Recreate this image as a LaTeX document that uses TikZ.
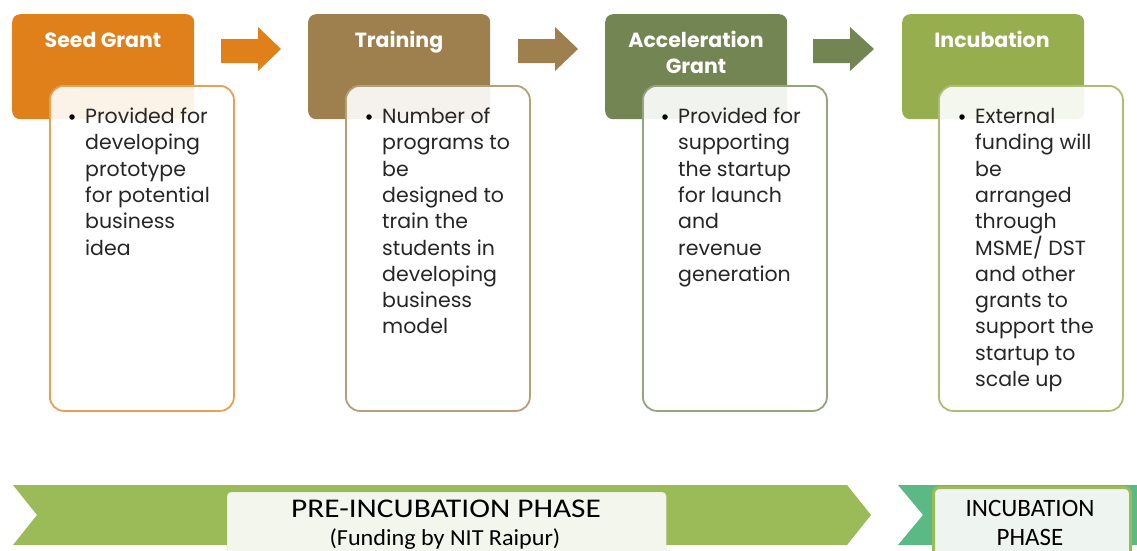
\documentclass[tikz,border=0pt]{standalone}
\usepackage{fontspec}
\newfontfamily\carlito{Carlito}
\newfontfamily\carlitoW[FakeStretch=1.16]{Carlito}
\newfontfamily\carlitoV[FakeStretch=1.05]{Carlito}
\newfontfamily\gothic{Poppins}
\definecolor{cOrange}{RGB}{224,128,27}
\definecolor{cBrown}{RGB}{158,128,78}
\definecolor{cOlive}{RGB}{115,133,82}
\definecolor{cGreen}{RGB}{150,174,78}
\definecolor{cBand}{RGB}{155,187,89}
\definecolor{cTeal}{RGB}{90,185,132}
\definecolor{cPaleA}{RGB}{243,246,237}
\definecolor{cPaleB}{RGB}{238,244,240}
\definecolor{cPaleEdge}{RGB}{222,230,205}
\definecolor{cText}{RGB}{38,38,38}
\tikzset{
  header/.style={rounded corners=8pt, minimum width=182pt, minimum height=105pt, anchor=north west, inner sep=0pt, draw=none},
  bodybox/.style={line width=1.8pt, fill=white, fill opacity=0.9, rounded corners=14pt, minimum width=184pt, minimum height=325pt, anchor=north west, inner sep=0pt},
  title/.style={text=white, font=\gothic\bfseries\fontsize{20.5}{26}\selectfont, inner sep=0pt, anchor=base},
  bline/.style={anchor=base west, inner sep=0pt, text=cText, font=\gothic\fontsize{20.5}{24}\selectfont},
  bdot/.style={circle, fill=black, inner sep=0pt, minimum size=5.5pt},
  phase/.style={inner sep=0pt, text=black, anchor=base},
}
\begin{document}
\begin{tikzpicture}[x=1pt,y=-1pt]
\clip (0,0) rectangle (1137,550);
\fill[white] (0,0) rectangle (1137,550);
% headers
\node[header, fill=cOrange] (h1) at (12,14) {};
\node[header, fill=cBrown] (h2) at (308,14) {};
\node[header, fill=cOlive] (h3) at (605,14) {};
\node[header, fill=cGreen] (h4) at (902,14) {};
\node[title] (t1) at (103,47.5) {Seed Grant};
\node[title] (t2) at (399,47.5) {Training};
\node[title] (t3) at (696,47.5) {Acceleration};
\node[title] (t3b) at (696,73.5) {Grant};
\node[title] (t4) at (992,47.5) {Incubation};
% block arrows
\fill[cOrange] (221,39)--(258,39)--(258,27)--(281,49)--(258,71)--(258,63)--(221,63)--cycle;
\fill[cBrown] (518,39)--(555,39)--(555,27)--(578,49)--(555,71)--(555,63)--(518,63)--cycle;
\fill[cOlive] (813,39)--(850,39)--(850,27)--(874,49)--(850,71)--(850,63)--(813,63)--cycle;
% bodies
\node[bodybox, draw=cOrange!75!white] (b1) at (49,85) {};
\node[bodybox, draw=cBrown!75!white] (b2) at (345,85) {};
\node[bodybox, draw=cOlive!75!white] (b3) at (642,85) {};
\node[bodybox, draw=cGreen!80!white] (b4) at (938,85) {};
\node[bdot] (d1) at (72,117) {};
\node[bdot] (d2) at (369,117) {};
\node[bdot] (d3) at (665,117) {};
\node[bdot] (d4) at (962,117) {};
\foreach \t [count=\i] in {Provided for,developing,prototype,for potential,business,idea}
  \node[bline] (p1-\i) at (85,123.5+26.3*\i-26.3) {\t};
\foreach \t [count=\i] in {Number of,programs to,be,designed to,train the,students in,developing,business,model}
  \node[bline] (p2-\i) at (382,123.5+26.3*\i-26.3) {\t};
\foreach \t [count=\i] in {Provided for,supporting,the startup,for launch,and,revenue,generation}
  \node[bline] (p3-\i) at (678,123.5+26.3*\i-26.3) {\t};
\foreach \t [count=\i] in {External,funding will,be,arranged,through,MSME/ DST,and other,grants to,support the,startup to,scale up}
  \node[bline] (p4-\i) at (975,123.5+26.3*\i-26.3) {\t};
% bottom bands
\fill[cBand] (13,485)--(847,485)--(871,515)--(847,545)--(13,545)--(37,515)--cycle;
\node[draw=cPaleEdge, fill=cPaleA, rounded corners=4pt, minimum width=439pt, minimum height=80pt, anchor=north west, inner sep=0pt] (pre) at (227,492) {};
\node[phase, font=\carlitoW\fontsize{27}{30}\selectfont] (preT) at (446,517) {PRE-INCUBATION PHASE};
\node[phase, font=\carlitoV\fontsize{23}{25}\selectfont] (preS) at (445,545) {(Funding by NIT Raipur)};
\fill[cTeal] (898,485)--(1145,485)--(1145,545)--(898,545)--(923,515)--cycle;
\node[draw=cBand, line width=3pt, fill=cPaleB, rounded corners=6pt, minimum width=197pt, minimum height=90pt, anchor=north west, inner sep=0pt] (inc) at (932,486) {};
\node[phase, font=\carlito\fontsize{25}{29}\selectfont] (incT) at (1030,516) {INCUBATION};
\node[phase, font=\carlito\fontsize{25}{29}\selectfont] (incP) at (1030,545) {PHASE};
\end{tikzpicture}
\end{document}
